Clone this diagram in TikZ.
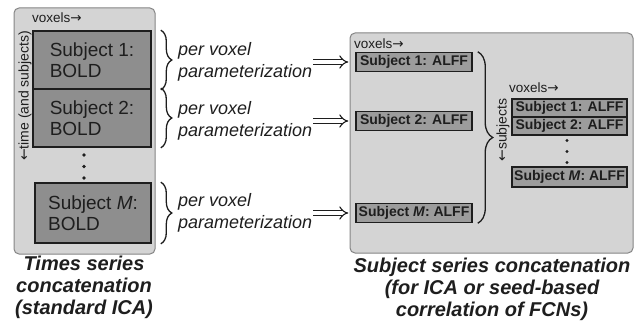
\documentclass[tikz,border=0pt]{standalone}
\usepackage{fontspec}
\setmainfont{Liberation Sans}
\newfontfamily\arrfont{DejaVu Sans}
\newcommand{\rarr}{{\arrfont →}}
\newcommand{\larr}{{\arrfont ←}}
\usetikzlibrary{decorations.pathreplacing,arrows.meta}
\definecolor{panelfill}{HTML}{D4D4D4}
\definecolor{paneldraw}{HTML}{858585}
\definecolor{boldfill}{HTML}{8E8E8E}
\definecolor{alfffill}{HTML}{9C9C9C}
\definecolor{ink}{HTML}{1E1E1E}
\begin{document}
\begin{tikzpicture}[x=1pt,y=-1pt,
  panel/.style={draw=paneldraw,fill=panelfill,line width=1pt,rounded corners=5pt},
  boldbox/.style={draw=ink,fill=boldfill,line width=1.6pt,align=left,minimum width=118pt,
    inner sep=0pt,font=\fontsize{19}{20.5}\selectfont,text=ink},
  alff/.style={draw=ink,fill=alfffill,line width=1.5pt,minimum width=116pt,minimum height=19pt,
    inner sep=0pt,font=\fontsize{14}{16}\selectfont\bfseries,text=ink},
  lbl/.style={inner sep=0pt,font=\fontsize{13.5}{15}\selectfont,text=ink},
  pv/.style={anchor=west,align=left,inner sep=1pt,font=\fontsize{18}{22}\selectfont\itshape,text=ink},
  captxt/.style={align=center,inner sep=0pt,font=\fontsize{20}{22}\selectfont\bfseries\itshape,text=ink},
  brc/.style={draw=ink,line width=1.3pt,decorate,decoration={brace,amplitude=#1}},
  brc/.default=11pt,
  dbl/.style={draw=ink,double=white,double distance=3.5pt,line width=1.1pt,-{Implies},shorten >=7pt},
  dotfill/.style={fill=ink}
]
\useasboundingbox (0,0) rectangle (635,326);

% ---------- left panel ----------
\draw[panel] (14,8) rectangle (155,254);
\node[lbl,anchor=west] (vx1) at (32,18) {voxels\rarr};
\node[lbl,rotate=90,font=\fontsize{14}{16}\selectfont] (tm) at (25,96) {\larr time (and subjects)};

\node[boldbox,minimum height=58pt] (b1) at (92,60) {Subject 1:\\BOLD};
\node[boldbox,minimum height=58pt] (b2) at (92,118) {Subject 2:\\BOLD};
\node[boldbox,minimum height=60pt,minimum width=116pt] (bM) at (93,213) {Subject \textit{M}:\\BOLD};

\fill[dotfill] (84,155) circle (1.8);
\fill[dotfill] (84,166.5) circle (1.8);
\fill[dotfill] (84,178) circle (1.8);

\draw[brc] ([xshift=9pt]b1.north east) -- ([xshift=9pt]b1.south east);
\draw[brc] ([xshift=9pt]b2.north east) -- ([xshift=9pt]b2.south east);
\draw[brc] ([xshift=9pt]bM.north east) -- ([xshift=9pt]bM.south east);

\node[captxt] (c1) at (84,287) {Times series\\concatenation\\(standard ICA)};

% ---------- per voxel labels ----------
\node[pv] (p1) at (177,62) {per voxel\\parameterization};
\node[pv] (p2) at (177,121) {per voxel\\parameterization};
\node[pv] (pM) at (177,213) {per voxel\\parameterization};

% ---------- right panel ----------
\draw[panel] (350,33) rectangle (633,253);
\node[lbl,anchor=west] (vx2) at (354,44) {voxels\rarr};

\node[alff] (a1) at (414,62) {Subject 1: ALFF};
\node[alff] (a2) at (414,121) {Subject 2: ALFF};
\node[alff] (aM) at (414,213) {Subject \textit{M}: ALFF};

\draw[dbl] (p1.east) -- (a1.west);
\draw[dbl] (p2.east) -- (a2.west);
\draw[dbl] (pM.east) -- (aM.west);

\draw[brc=15pt] ([xshift=5pt]a1.north east) -- ([xshift=5pt]aM.south east);

\node[lbl,rotate=90,font=\fontsize{14}{16}\selectfont] (sb) at (503,130) {\larr subjects};
\node[lbl,anchor=west] (vx3) at (509,88) {voxels\rarr};

\node[alff,minimum width=115pt,minimum height=18pt] (s1) at (569.5,108) {Subject 1: ALFF};
\node[alff,minimum width=115pt,minimum height=18pt] (s2) at (569.5,126) {Subject 2: ALFF};
\node[alff,minimum width=115pt,minimum height=20pt] (sM) at (569.5,177) {Subject \textit{M}: ALFF};

\fill[dotfill] (567,140.5) circle (1.6);
\fill[dotfill] (567,151.5) circle (1.6);
\fill[dotfill] (567,162.5) circle (1.6);

\node[captxt] (c2) at (492,289) {Subject series concatenation\\(for ICA or seed-based\\correlation of FCNs)};
\end{tikzpicture}
\end{document}
